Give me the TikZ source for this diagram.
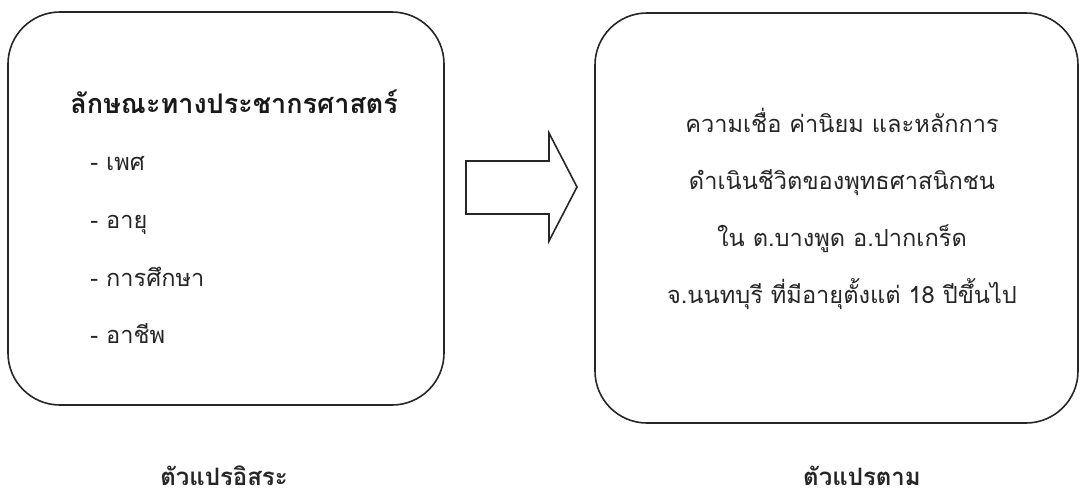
\documentclass[tikz,border=0pt]{standalone}
\usepackage{fontspec}
\newfontfamily\thaifont[Script=Thai]{Loma}
\usetikzlibrary{positioning}

\tikzset{
  varbox/.style={draw=black!85,line width=0.8pt,rounded corners=26pt,inner sep=0pt},
  bodytext/.style={font=\thaifont\fontsize{11.8}{14}\selectfont,text=black!85,inner sep=0pt},
  headtext/.style={font=\thaifont\bfseries\fontsize{13.5}{16}\selectfont,text=black!90,inner sep=0pt},
  vartitle/.style={font=\thaifont\bfseries\fontsize{12}{14}\selectfont,text=black!85,inner sep=0pt}
}

\begin{document}
\begin{tikzpicture}[x=0.5pt,y=-0.5pt]
        \useasboundingbox (0,0) rectangle (1082,493);
        % boxes
        \node[varbox,minimum width=218pt,minimum height=196.5pt] (ivbox) at (226,208.5) {};
        \node[varbox,minimum width=241.5pt,minimum height=205pt] (dvbox) at (836.5,218) {};
        % independent variables
        \node[headtext,anchor=base west] (demo) at (70,113) {ลักษณะทางประชากรศาสตร์};
        \node[bodytext,anchor=base west] (sex) at (90,170) {- เพศ};
        \node[bodytext,anchor=base west] (age) at (90,228) {- อายุ};
        \node[bodytext,anchor=base west] (edu) at (90,286) {- การศึกษา};
        \node[bodytext,anchor=base west] (job) at (90,343) {- อาชีพ};
        % dependent variable
        \node[bodytext,anchor=base] (dva) at (842,132) {ความเชื่อ ค่านิยม และหลักการ};
        \node[bodytext,anchor=base] (dvb) at (842,189) {ดำเนินชีวิตของพุทธศาสนิกชน};
        \node[bodytext,anchor=base] (dvc) at (842,246) {ใน ต.บางพูด อ.ปากเกร็ด};
        \node[bodytext,anchor=base] (dvd) at (842,303) {จ.นนทบุรี ที่มีอายุตั้งแต่ 18 ปีขึ้นไป};
        % block arrow
        \draw[black!85,line width=0.8pt,line join=miter] (466,161) -- (549,161) -- (549,133) -- (577,187)
            -- (549,241) -- (549,214) -- (466,214) -- cycle;
        % captions
        \node[vartitle,anchor=base] (iv) at (224,485) {ตัวแปรอิสระ};
        \node[vartitle,anchor=base] (dv) at (862,485) {ตัวแปรตาม};
\end{tikzpicture}
\end{document}
